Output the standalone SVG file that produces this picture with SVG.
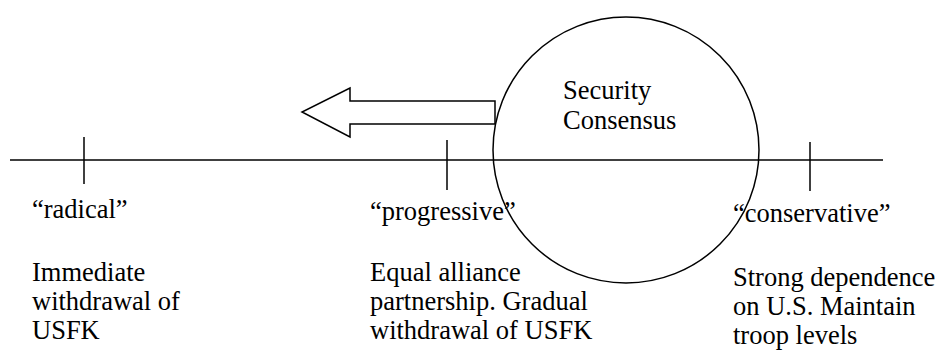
<svg xmlns="http://www.w3.org/2000/svg" width="940" height="352" viewBox="0 0 940 352">
<style>
.ln{stroke:#000;stroke-width:1.5;fill:none}
.t{font-family:"Liberation Serif","Times New Roman",serif;font-size:26.5px;fill:#000}
</style>
<rect width="940" height="352" fill="#fff"/>
<g id="axis">
<line class="ln" x1="10" y1="160" x2="883" y2="160"/>
</g>
<g id="radical">
<line class="ln" x1="84" y1="137" x2="84" y2="184"/>
<text class="t" x="32" y="218">“radical”</text>
<text class="t" x="32" y="281">Immediate</text>
<text class="t" x="32" y="310">withdrawal of</text>
<text class="t" x="32" y="339">USFK</text>
</g>
<g id="progressive">
<line class="ln" x1="447" y1="140" x2="447" y2="190"/>
<text class="t" x="370" y="220">“progressive”</text>
<text class="t" x="370" y="281">Equal alliance</text>
<text class="t" x="370" y="310">partnership. Gradual</text>
<text class="t" x="370" y="339">withdrawal of USFK</text>
</g>
<g id="conservative">
<line class="ln" x1="810" y1="142" x2="810" y2="191"/>
<text class="t" x="733" y="222">“conservative”</text>
<text class="t" x="733" y="286">Strong dependence</text>
<text class="t" x="733" y="315">on U.S. Maintain</text>
<text class="t" x="733" y="344">troop levels</text>
</g>
<g id="consensus">
<circle class="ln" cx="626" cy="150" r="133"/>
<text class="t" x="563" y="99">Security</text>
<text class="t" x="563" y="129">Consensus</text>
</g>
<g id="connectors">
<polygon class="ln" points="495,101 350,101 350,88 302,112 350,137 350,124 495,124"/>
</g>
</svg>
